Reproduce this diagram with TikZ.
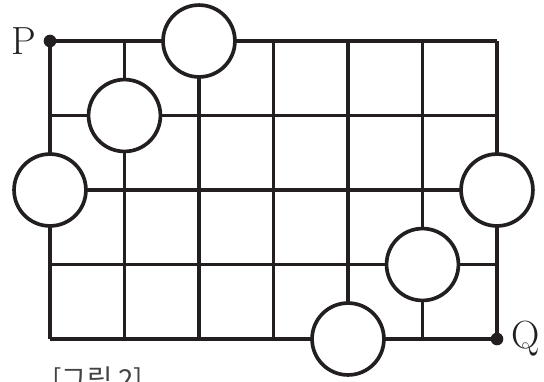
\documentclass[tikz,border=0pt]{standalone}
\usepackage{fontspec}
\newfontfamily\krfont{Noto Sans CJK KR}
\usetikzlibrary{positioning}
\definecolor{cink}{HTML}{231F20}
\tikzset{
  every picture/.style={line width=3pt},
  road/.style={draw=cink, line width=3pt},
  hole/.style={circle, draw=cink, fill=white, line width=2.8pt, minimum size=1.93cm, inner sep=0pt},
  dot/.style={circle, fill=cink, minimum size=0.34cm, inner sep=0pt},
  lbl/.style={font=\fontsize{30}{34}\selectfont, text=cink, inner sep=0pt},
  caption/.style={font=\krfont\fontsize{21}{24}\selectfont, text=cink!85, inner sep=0pt},
}
\begin{document}
\begin{tikzpicture}
  \useasboundingbox (-1.342,-1.154) rectangle (13.262,9.101);
  % grid of roads
  \foreach \x in {0,2,...,12} \draw[road] (\x,0) -- (\x,8);
  \foreach \y in {0,2,...,8} \draw[road] (0,\y) -- (12,\y);
  % blocked crossings
  \node[hole] (c1) at (4,8) {};
  \node[hole] (c2) at (2,6) {};
  \node[hole] (c3) at (0,4) {};
  \node[hole] (c4) at (12,4) {};
  \node[hole] (c5) at (10,2) {};
  \node[hole] (c6) at (8,0) {};
  % end points
  \node[dot] (P) at (0,8) {};
  \node[dot] (Q) at (12,0) {};
  \node[lbl, left=3pt of P] (lp) {P};
  \node[lbl, right=3pt of Q] (lq) {Q};
  \node[caption, anchor=north west] (cap) at (0.02,-0.68) {[그림 2]};
\end{tikzpicture}
\end{document}
